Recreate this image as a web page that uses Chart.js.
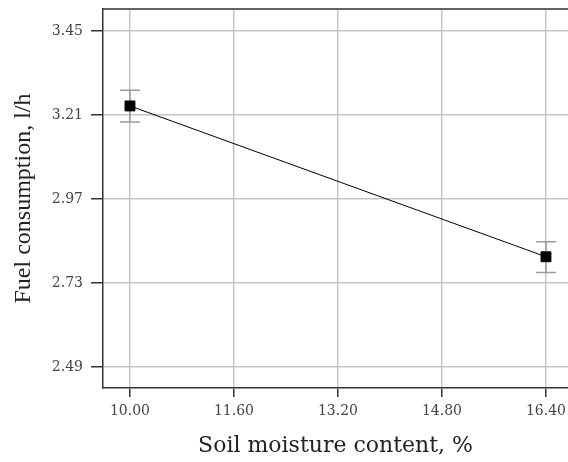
<!DOCTYPE html>
<html>
<head>
<meta charset="utf-8">
<script src="https://cdn.jsdelivr.net/npm/chart.js@4/dist/chart.umd.min.js"></script>
<style>
  html, body { margin: 0; padding: 0; background: #fff; overflow: hidden; width: 568px; height: 462px; }
  #wrap { width: 568px; height: 462px; }
</style>
</head>
<body>
<div id="wrap"><canvas id="c" width="568" height="462"></canvas></div>
<script>
const moisture = [10.00, 16.40];
const fuel = [3.236, 2.805];
const errLow = [3.190, 2.760];
const errHigh = [3.281, 2.848];
const xTicks = [10.00, 11.60, 13.20, 14.80, 16.40];
const yTicks = [2.49, 2.73, 2.97, 3.21, 3.45];

const points = moisture.map((x, i) => ({ x: x, y: fuel[i] }));

const errorBars = {
  id: 'errorBars',
  beforeDatasetsDraw(chart) {
    const ctx = chart.ctx;
    const xs = chart.scales.x, ys = chart.scales.y;
    ctx.save();
    ctx.strokeStyle = '#9a9a9a';
    ctx.lineWidth = 1.5;
    moisture.forEach((x, i) => {
      const px = xs.getPixelForValue(x);
      const lo = ys.getPixelForValue(errLow[i]);
      const hi = ys.getPixelForValue(errHigh[i]);
      ctx.beginPath();
      ctx.moveTo(px, lo); ctx.lineTo(px, hi);
      ctx.moveTo(px - 10, lo); ctx.lineTo(px + 10, lo);
      ctx.moveTo(px - 10, hi); ctx.lineTo(px + 10, hi);
      ctx.stroke();
    });
    ctx.restore();
  },
  afterDraw(chart) {
    const a = chart.chartArea, ctx = chart.ctx;
    ctx.save();
    ctx.strokeStyle = '#333';
    ctx.lineWidth = 1.5;
    ctx.beginPath();
    ctx.moveTo(a.left, a.top); ctx.lineTo(a.right, a.top);
    ctx.stroke();
    ctx.restore();
  }
};

new Chart(document.getElementById('c'), {
  type: 'scatter',
  data: {
    datasets: [{
      data: points,
      showLine: true,
      borderColor: '#000',
      borderWidth: 1,
      backgroundColor: '#000',
      pointStyle: 'rect',
      pointRadius: 7,
      pointHoverRadius: 7
    }]
  },
  options: {
    responsive: false,
    animation: false,
    devicePixelRatio: 1,
    layout: { autoPadding: false, padding: { top: 9, left: 0, right: 0, bottom: 0 } },
    plugins: { legend: { display: false }, tooltip: { enabled: false } },
    scales: {
      x: {
        type: 'linear',
        min: 9.585,
        max: 16.739,
        afterBuildTicks: s => { s.ticks = xTicks.map(v => ({ value: v })); },
        afterFit: s => { s.height = 74; s.paddingLeft = 0; s.paddingRight = 0; },
        ticks: {
          callback: v => Number(v).toFixed(2),
          font: { family: 'DejaVu Serif', size: 14 },
          color: '#444',
          padding: 6,
          maxRotation: 0
        },
        grid: { color: '#c4c4c4', lineWidth: 1.5, tickLength: 9, tickColor: '#333', tickWidth: 1.5 },
        border: { color: '#333', width: 1.5 },
        title: {
          display: true,
          text: 'Soil moisture content, %',
          font: { family: 'DejaVu Serif', size: 22 },
          color: '#222',
          padding: { top: 3, bottom: 3 }
        }
      },
      y: {
        type: 'linear',
        min: 2.43,
        max: 3.513,
        afterBuildTicks: s => { s.ticks = yTicks.map(v => ({ value: v })); },
        afterFit: s => { s.width = 103; s.paddingTop = 0; s.paddingBottom = 0; },
        ticks: {
          callback: v => Number(v).toFixed(2),
          font: { family: 'DejaVu Serif', size: 14 },
          color: '#444',
          padding: 8
        },
        grid: { color: '#c4c4c4', lineWidth: 1.5, tickLength: 12, tickColor: '#333', tickWidth: 1.5 },
        border: { color: '#333', width: 1.5 },
        title: {
          display: true,
          text: 'Fuel consumption, l/h',
          font: { family: 'Liberation Serif', size: 24 },
          color: '#222',
          padding: { top: 9, bottom: 9 }
        }
      }
    }
  },
  plugins: [errorBars]
});
</script>
</body>
</html>
